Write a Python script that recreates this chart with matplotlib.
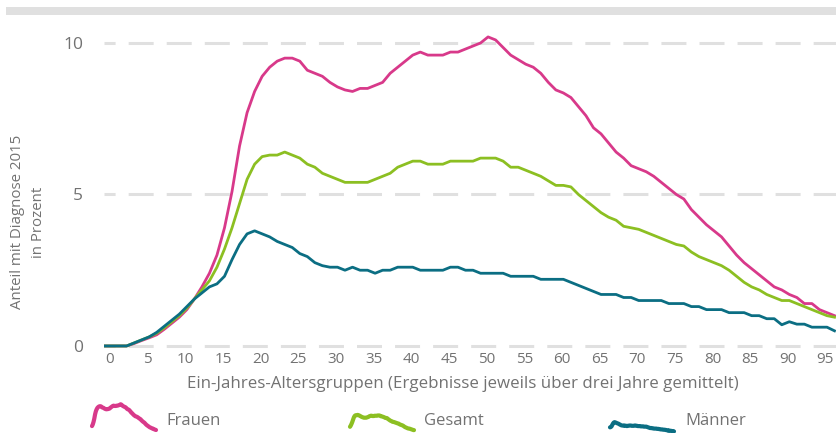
import matplotlib
matplotlib.use("Agg")
import matplotlib.pyplot as plt
import matplotlib.transforms as mtransforms
from matplotlib.patches import Rectangle

# Anteil mit Diagnose 2015 in Prozent, Alter 0..97
alter = list(range(0, 98))

frauen = [0, 0, 0, 0, 0.08, 0.18, 0.27, 0.37, 0.55, 0.75,
          0.95, 1.2, 1.55, 1.95, 2.4, 3.0, 3.9, 5.1, 6.6, 7.7,
          8.4, 8.9, 9.2, 9.4, 9.5, 9.5, 9.4, 9.1, 9.0, 8.9,
          8.7, 8.55, 8.45, 8.4, 8.5, 8.5, 8.6, 8.7, 9.0, 9.2,
          9.4, 9.6, 9.7, 9.6, 9.6, 9.6, 9.7, 9.7, 9.8, 9.9,
          10.0, 10.2, 10.1, 9.85, 9.6, 9.45, 9.3, 9.2, 9.0, 8.7,
          8.45, 8.35, 8.2, 7.9, 7.6, 7.2, 7.0, 6.7, 6.4, 6.2,
          5.95, 5.85, 5.75, 5.6, 5.4, 5.2, 5.0, 4.85, 4.5, 4.25,
          4.0, 3.8, 3.6, 3.3, 3.0, 2.75, 2.55, 2.35, 2.15, 1.95,
          1.85, 1.7, 1.6, 1.4, 1.4, 1.2, 1.1, 1.0]

gesamt = [0, 0, 0, 0, 0.1, 0.2, 0.3, 0.42, 0.6, 0.8,
          1.0, 1.25, 1.55, 1.85, 2.15, 2.6, 3.2, 3.9, 4.7, 5.5,
          6.0, 6.25, 6.3, 6.3, 6.4, 6.3, 6.2, 6.0, 5.9, 5.7,
          5.6, 5.5, 5.4, 5.4, 5.4, 5.4, 5.5, 5.6, 5.7, 5.9,
          6.0, 6.1, 6.1, 6.0, 6.0, 6.0, 6.1, 6.1, 6.1, 6.1,
          6.2, 6.2, 6.2, 6.1, 5.9, 5.9, 5.8, 5.7, 5.6, 5.45,
          5.3, 5.3, 5.25, 5.0, 4.8, 4.6, 4.4, 4.25, 4.15, 3.95,
          3.9, 3.85, 3.75, 3.65, 3.55, 3.45, 3.35, 3.3, 3.1, 2.95,
          2.85, 2.75, 2.65, 2.5, 2.3, 2.1, 1.95, 1.85, 1.7, 1.6,
          1.5, 1.5, 1.4, 1.3, 1.2, 1.1, 1.0, 0.95]

maenner = [0, 0, 0, 0, 0.1, 0.2, 0.3, 0.45, 0.65, 0.85,
           1.05, 1.3, 1.55, 1.75, 1.95, 2.05, 2.3, 2.85, 3.35, 3.7,
           3.8, 3.7, 3.6, 3.45, 3.35, 3.25, 3.05, 2.95, 2.75, 2.65,
           2.6, 2.6, 2.5, 2.6, 2.5, 2.5, 2.4, 2.5, 2.5, 2.6,
           2.6, 2.6, 2.5, 2.5, 2.5, 2.5, 2.6, 2.6, 2.5, 2.5,
           2.4, 2.4, 2.4, 2.4, 2.3, 2.3, 2.3, 2.3, 2.2, 2.2,
           2.2, 2.2, 2.1, 2.0, 1.9, 1.8, 1.7, 1.7, 1.7, 1.6,
           1.6, 1.5, 1.5, 1.5, 1.5, 1.4, 1.4, 1.4, 1.3, 1.3,
           1.2, 1.2, 1.2, 1.1, 1.1, 1.1, 1.0, 1.0, 0.9, 0.9,
           0.7, 0.8, 0.72, 0.72, 0.62, 0.62, 0.62, 0.5]

x_ticks = list(range(0, 96, 5))
y_ticks = [0, 5, 10]

serien = ["Frauen", "Gesamt", "Männer"]
farben = ["#d8398a", "#8cbf22", "#0b6e83"]
werte = [frauen, gesamt, maenner]

grau = "#727272"
plt.rcParams["font.family"] = ["Open Sans", "DejaVu Sans"]
plt.rcParams["lines.scale_dashes"] = False

W, H = 836, 433
fig = plt.figure(figsize=(W / 100, H / 100), dpi=100)

def px_box(x0, y0, x1, y1):
    # Pixel (oben links) -> Figurkoordinaten
    return [x0 / W, 1 - y1 / H, (x1 - x0) / W, (y1 - y0) / H]

# grauer Balken oben
fig.patches.append(Rectangle((6 / W, 1 - 15 / H), 1, 8 / H, transform=fig.transFigure,
                             facecolor="#e0e0e0", edgecolor="none"))

ax = fig.add_axes(px_box(104, 24.8, 836, 349.0))
ax.set_xlim(0, 97.2)
ax.set_ylim(-0.1, 10.6)

for y in y_ticks:
    ax.axhline(y, color="#e0e0e0", lw=2.2, linestyle=(10, (18, 9.4)), zorder=1)

for name, farbe, w in zip(serien, farben, werte):
    ax.plot(alter, w, color=farbe, lw=2.0, zorder=3, solid_joinstyle="round")

for s in ax.spines.values():
    s.set_visible(False)

ax.set_xticks(x_ticks)
ax.set_xticklabels([str(t) for t in x_ticks])
ax.set_yticks(y_ticks)
ax.set_yticklabels([str(t) for t in y_ticks])
ax.tick_params(axis="x", length=0, pad=2, labelsize=11, labelcolor=grau)
ax.tick_params(axis="y", length=0, pad=15, labelsize=12.5, labelcolor=grau)
shift = mtransforms.ScaledTranslation(0.06, 0, fig.dpi_scale_trans)
for lab in ax.get_xticklabels():
    lab.set_transform(lab.get_transform() + shift)

fig.text(463 / W, 1 - 384 / H,
         "Ein-Jahres-Altersgruppen (Ergebnisse jeweils über drei Jahre gemittelt)",
         ha="center", va="center", fontsize=12.2, color=grau)
fig.text(28 / W, 1 - 222 / H, "Anteil mit Diagnose 2015\nin Prozent",
         rotation=90, ha="center", va="center", multialignment="center",
         fontsize=10.8, color=grau, linespacing=1.55)

# Legende: kleine Kurven als Symbole
icon_x = [92, 350, 610]
text_x = [166, 424, 685]
for name, farbe, w, ix, tx in zip(serien, farben, werte, icon_x, text_x):
    iax = fig.add_axes(px_box(ix, 404, ix + 64, 430))
    iax.plot(alter[14:], w[14:], color=farbe, lw=3.0, solid_capstyle="round",
             solid_joinstyle="round", clip_on=False)
    iax.set_xlim(14, 97)
    iax.set_ylim(1.0, 10.3)
    iax.axis("off")
    fig.text(tx / W, 1 - 421 / H, name, ha="left", va="center", fontsize=12, color=grau)

fig.savefig("out.png", dpi=100, facecolor="white")
